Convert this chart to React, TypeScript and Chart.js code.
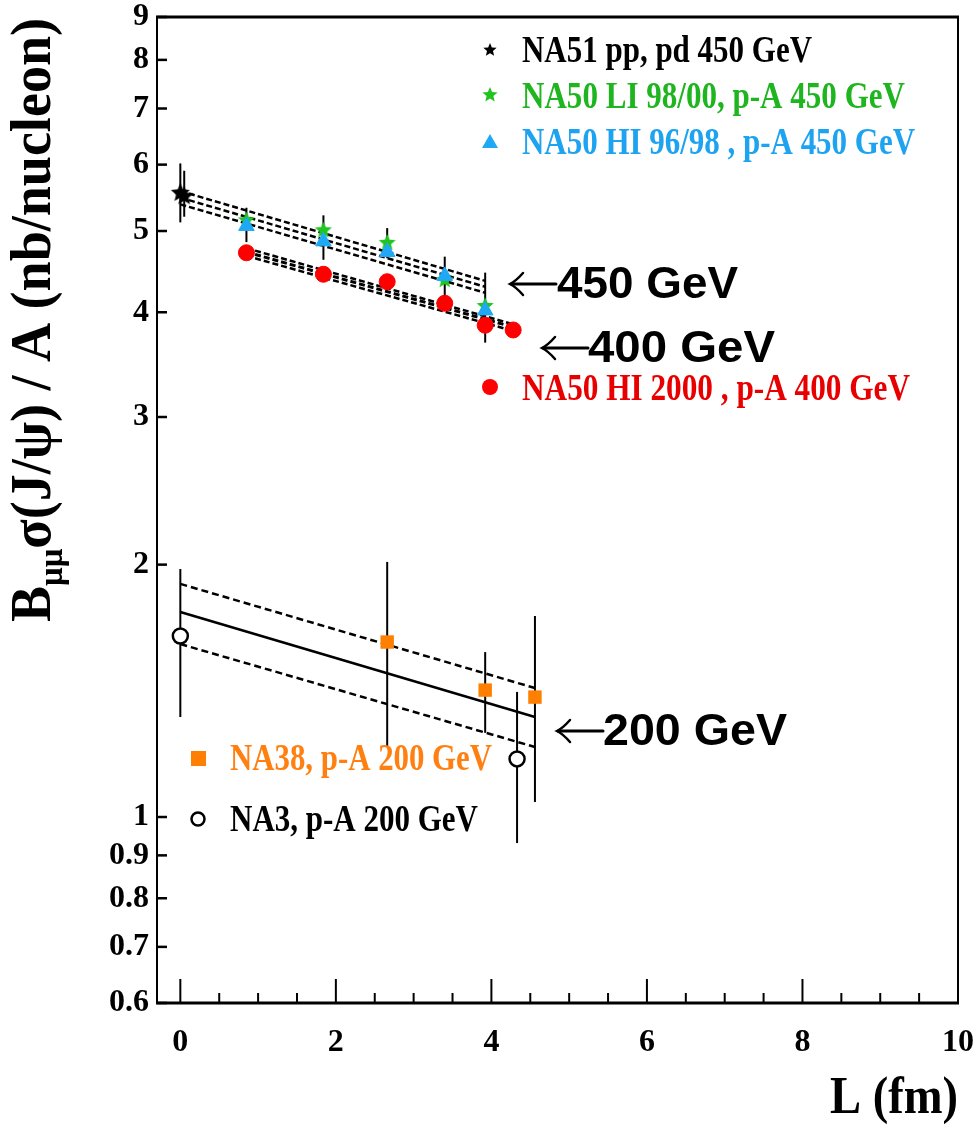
import React, { useEffect, useRef } from "react";
import { Chart, registerables } from "chart.js";

Chart.register(...registerables);

// ---------- data (L in fm, B·sigma/A in nb/nucleon) ----------
const NA51_L = [0, 0.05];
const NA51_V = [5.55, 5.5];
const NA51_LO = [5.12, 5.2];
const NA51_HI = [6.02, 5.9];

const NA50LI_L = [0.85, 1.84, 2.66, 3.4, 3.92];
const NA50LI_V = [5.15, 5.01, 4.84, 4.37, 4.07];

const NA50HI_L = [0.85, 1.84, 2.66, 3.4, 3.92];
const NA50HI_V = [5.07, 4.86, 4.72, 4.42, 4.02];
const NA50HI_LO = [4.85, 4.62, 4.64, 4.17, 3.68];
const NA50HI_HI = [5.33, 5.22, 5.04, 4.66, 4.46];

const NA50_2000_L = [0.85, 1.84, 2.66, 3.4, 3.92, 4.28];
const NA50_2000_V = [4.71, 4.44, 4.35, 4.1, 3.86, 3.81];

const NA38_L = [2.66, 3.92, 4.56];
const NA38_V = [1.617, 1.417, 1.39];
const NA38_LO = [1.212, 1.26, 1.042];
const NA38_HI = [2.015, 1.573, 1.737];

const NA3_L = [0, 4.33];
const NA3_V = [1.644, 1.173];
const NA3_LO = [1.316, 0.931];
const NA3_HI = [1.976, 1.41];

// fits
const FIT450_L = [0, 3.92];
const FIT450_MID = [5.48, 4.29];
const FIT450_UP = [5.58, 4.36];
const FIT450_DN = [5.38, 4.22];
const FIT400_L = [0.85, 4.28];
const FIT400_MID = [4.72, 3.84];
const FIT400_UP = [4.77, 3.87];
const FIT400_DN = [4.67, 3.8];
const FIT200_L = [0, 4.56];
const FIT200_MID = [1.756, 1.316];
const FIT200_UP = [1.897, 1.425];
const FIT200_DN = [1.608, 1.212];

const Y_TICKS = [0.6, 0.7, 0.8, 0.9, 1, 2, 3, 4, 5, 6, 7, 8, 9];
const X_TICKS = [0, 2, 4, 6, 8, 10];
const X_MINOR = [0.5, 1, 1.5, 2.5, 3, 3.5, 4.5, 5, 5.5, 6.5, 7, 7.5, 8.5, 9, 9.5];

const LEGEND_TEXTS = [
  "NA51 pp, pd 450 GeV",
  "NA50 LI 98/00, p-A 450 GeV",
  "NA50 HI 96/98 , p-A 450 GeV",
  "NA50 HI 2000 , p-A 400 GeV",
  "NA38, p-A 200 GeV",
  "NA3, p-A 200 GeV",
];
const ENERGY_LABELS = ["450 GeV", "400 GeV", "200 GeV"];
const X_TITLE = "L (fm)";
const Y_TITLE_REST = "σ(J/ψ) / A (nb/nucleon)";

const SERIF = '"Liberation Serif", "Times New Roman", serif';
const SANS = '"Liberation Sans", Arial, sans-serif';

const C_GREEN = "#22c422";
const C_BLUE = "#1fa9f5";
const C_RED = "#ff0000";
const C_ORANGE = "#ff7f00";

const pts = (xs: number[], ys: number[]) => xs.map((x, i) => ({ x, y: ys[i] }));

function starPath(g: CanvasRenderingContext2D, cx: number, cy: number, r: number) {
  g.beginPath();
  for (let i = 0; i < 10; i++) {
    const ang = -Math.PI / 2 + (i * Math.PI) / 5;
    const rad = i % 2 ? r * 0.45 : r;
    const px = cx + Math.cos(ang) * rad;
    const py = cy + Math.sin(ang) * rad;
    if (i === 0) g.moveTo(px, py);
    else g.lineTo(px, py);
  }
  g.closePath();
}

function makeStar(color: string, r: number) {
  const c = document.createElement("canvas");
  const s = Math.ceil(2 * r + 2);
  c.width = s;
  c.height = s;
  const g = c.getContext("2d")!;
  starPath(g, s / 2, s / 2, r);
  g.fillStyle = color;
  g.fill();
  return c;
}

function drawFit(
  ctx: CanvasRenderingContext2D,
  text: string,
  x: number,
  baseline: number,
  width: number,
  font: string,
  color: string
) {
  ctx.save();
  ctx.font = font;
  ctx.fillStyle = color;
  ctx.textAlign = "left";
  ctx.textBaseline = "alphabetic";
  const m = ctx.measureText(text).width;
  ctx.translate(x, baseline);
  ctx.scale(width / m, 1);
  ctx.fillText(text, 0, 0);
  ctx.restore();
}

function drawArrow(ctx: CanvasRenderingContext2D, x1: number, x2: number, y: number) {
  ctx.save();
  ctx.strokeStyle = "#000";
  ctx.lineWidth = 3;
  ctx.lineCap = "round";
  ctx.beginPath();
  ctx.moveTo(x2, y);
  ctx.lineTo(x1 + 1, y);
  ctx.stroke();
  ctx.lineWidth = 2.5;
  ctx.beginPath();
  ctx.moveTo(x1 + 13, y - 11);
  ctx.quadraticCurveTo(x1 + 6, y - 3, x1, y);
  ctx.quadraticCurveTo(x1 + 6, y + 3, x1 + 13, y + 11);
  ctx.stroke();
  ctx.restore();
}

const ERR_SETS = [
  { L: NA51_L, LO: NA51_LO, HI: NA51_HI },
  { L: NA50HI_L, LO: NA50HI_LO, HI: NA50HI_HI },
  { L: NA38_L, LO: NA38_LO, HI: NA38_HI },
  { L: NA3_L, LO: NA3_LO, HI: NA3_HI },
];

const overlayPlugin = {
  id: "overlay",
  beforeDatasetsDraw(chart: any) {
    const { ctx, scales } = chart;
    const xs = scales.x;
    const ys = scales.y;
    ctx.save();
    ctx.strokeStyle = "#000";
    ctx.lineWidth = 2;
    for (const set of ERR_SETS) {
      set.L.forEach((l: number, i: number) => {
        const px = xs.getPixelForValue(l);
        ctx.beginPath();
        ctx.moveTo(px, ys.getPixelForValue(set.LO[i]));
        ctx.lineTo(px, ys.getPixelForValue(set.HI[i]));
        ctx.stroke();
      });
    }
    ctx.restore();
  },
  afterDraw(chart: any) {
    const { ctx, chartArea: a, scales } = chart;
    const xs = scales.x;
    const ys = scales.y;
    ctx.save();
    ctx.strokeStyle = "#000";
    // frame
    ctx.lineWidth = 3;
    ctx.beginPath();
    ctx.moveTo(a.left - 1, a.top);
    ctx.lineTo(a.right + 1, a.top);
    ctx.moveTo(a.left - 1, a.bottom);
    ctx.lineTo(a.right + 1, a.bottom);
    ctx.stroke();
    ctx.lineWidth = 2;
    ctx.beginPath();
    ctx.moveTo(a.left, a.top);
    ctx.lineTo(a.left, a.bottom);
    ctx.moveTo(a.right, a.top);
    ctx.lineTo(a.right, a.bottom);
    ctx.stroke();
    // y ticks (inside)
    ctx.lineWidth = 2.5;
    for (const v of Y_TICKS) {
      const py = ys.getPixelForValue(v);
      ctx.beginPath();
      ctx.moveTo(a.left, py);
      ctx.lineTo(a.left + 10, py);
      ctx.stroke();
    }
    // x ticks (inside)
    ctx.lineWidth = 2;
    for (const v of X_TICKS) {
      const px = xs.getPixelForValue(v);
      ctx.beginPath();
      ctx.moveTo(px, a.bottom);
      ctx.lineTo(px, a.bottom - 24);
      ctx.stroke();
    }
    for (const v of X_MINOR) {
      const px = xs.getPixelForValue(v);
      ctx.beginPath();
      ctx.moveTo(px, a.bottom);
      ctx.lineTo(px, a.bottom - 10);
      ctx.stroke();
    }

    // legend markers
    const blackStar = makeStar("#000", 7);
    ctx.drawImage(blackStar, 490 - blackStar.width / 2, 50 - blackStar.height / 2);
    const greenStar = makeStar(C_GREEN, 8);
    ctx.drawImage(greenStar, 490 - greenStar.width / 2, 95 - greenStar.height / 2);
    ctx.fillStyle = C_BLUE;
    ctx.beginPath();
    ctx.moveTo(490, 134);
    ctx.lineTo(482, 148);
    ctx.lineTo(498, 148);
    ctx.closePath();
    ctx.fill();
    ctx.fillStyle = C_RED;
    ctx.beginPath();
    ctx.arc(490, 387, 8, 0, Math.PI * 2);
    ctx.fill();
    ctx.fillStyle = C_ORANGE;
    ctx.fillRect(191, 751, 15, 15);
    ctx.fillStyle = "#fff";
    ctx.lineWidth = 2.5;
    ctx.beginPath();
    ctx.arc(198, 819, 6.5, 0, Math.PI * 2);
    ctx.fill();
    ctx.stroke();

    // legend texts
    const lf = `bold 37px ${SERIF}`;
    drawFit(ctx, LEGEND_TEXTS[0], 522, 62, 290, lf, "#000");
    drawFit(ctx, LEGEND_TEXTS[1], 522, 108, 383, lf, "#1fb51f");
    drawFit(ctx, LEGEND_TEXTS[2], 522, 154, 393, lf, "#1ea3f0");
    drawFit(ctx, LEGEND_TEXTS[3], 522, 400, 388, lf, "#e80000");
    drawFit(ctx, LEGEND_TEXTS[4], 230, 770, 262, lf, "#ff7f10");
    drawFit(ctx, LEGEND_TEXTS[5], 230, 831, 248, lf, "#000");

    // energy annotations
    const af = `bold 45px ${SANS}`;
    drawArrow(ctx, 510, 556, 284);
    drawFit(ctx, ENERGY_LABELS[0], 557, 298, 181, af, "#000");
    drawArrow(ctx, 542, 588, 348);
    drawFit(ctx, ENERGY_LABELS[1], 588, 362, 187, af, "#000");
    drawArrow(ctx, 557, 603, 731);
    drawFit(ctx, ENERGY_LABELS[2], 603, 745, 184, af, "#000");

    // x title
    drawFit(ctx, X_TITLE, 830, 1113, 128, `bold 53px ${SERIF}`, "#000");

    // y title (rotated, with subscript)
    ctx.save();
    ctx.translate(50, 320);
    ctx.rotate(-Math.PI / 2);
    ctx.fillStyle = "#000";
    ctx.textBaseline = "alphabetic";
    ctx.textAlign = "left";
    const big = `bold 56px ${SERIF}`;
    const small = `bold 34px ${SERIF}`;
    ctx.font = big;
    const wB = ctx.measureText("B").width;
    const wRest = ctx.measureText(Y_TITLE_REST).width;
    ctx.font = small;
    const wSub = ctx.measureText("μμ").width;
    const total = wB + wSub + wRest;
    ctx.scale(604 / total, 1);
    let cx = -total / 2;
    ctx.font = big;
    ctx.fillText("B", cx, 0);
    cx += wB;
    ctx.font = small;
    ctx.fillText("μμ", cx, 12);
    cx += wSub;
    ctx.font = big;
    ctx.fillText(Y_TITLE_REST, cx, 0);
    ctx.restore();

    ctx.restore();
  },
};

export default function App() {
  const ref = useRef<HTMLCanvasElement | null>(null);
  useEffect(() => {
    if (!ref.current) return;
    const greenStar = makeStar(C_GREEN, 9);
    const blackStar = makeStar("#000", 10);
    const line = (xs: number[], ys: number[], dash: number[], width = 2) => ({
      data: pts(xs, ys),
      showLine: true,
      borderColor: "#000",
      borderWidth: width,
      borderDash: dash,
      pointRadius: 0,
      fill: false,
    });
    const chart = new Chart(ref.current, {
      type: "scatter",
      data: {
        datasets: [
          {
            label: "NA50 HI 96/98",
            data: pts(NA50HI_L, NA50HI_V),
            pointStyle: "triangle",
            pointRadius: 9,
            backgroundColor: C_BLUE,
            borderColor: C_BLUE,
            borderWidth: 1,
          },
          {
            label: "NA50 LI 98/00",
            data: pts(NA50LI_L, NA50LI_V),
            pointStyle: greenStar as any,
          },
          {
            label: "NA50 HI 2000",
            data: pts(NA50_2000_L, NA50_2000_V),
            pointStyle: "circle",
            pointRadius: 8,
            backgroundColor: C_RED,
            borderColor: C_RED,
            borderWidth: 1,
          },
          {
            label: "NA51",
            data: pts(NA51_L, NA51_V),
            pointStyle: blackStar as any,
          },
          {
            label: "NA38",
            data: pts(NA38_L, NA38_V),
            pointStyle: "rect",
            pointRadius: 9.5,
            backgroundColor: C_ORANGE,
            borderColor: C_ORANGE,
            borderWidth: 0,
          },
          {
            label: "NA3",
            data: pts(NA3_L, NA3_V),
            pointStyle: "circle",
            pointRadius: 7.5,
            backgroundColor: "#fff",
            borderColor: "#000",
            borderWidth: 2.5,
          },
          line(FIT450_L, FIT450_MID, [6, 3], 2.5),
          line(FIT450_L, FIT450_UP, [6, 3], 2.5),
          line(FIT450_L, FIT450_DN, [6, 3], 2.5),
          line(FIT400_L, FIT400_MID, [6, 3], 3),
          line(FIT400_L, FIT400_UP, [6, 3], 2.5),
          line(FIT400_L, FIT400_DN, [6, 3], 2.5),
          line(FIT200_L, FIT200_MID, [], 2.5),
          line(FIT200_L, FIT200_UP, [7, 4], 2.5),
          line(FIT200_L, FIT200_DN, [7, 4], 2.5),
        ] as any,
      },
      options: {
        responsive: false,
        maintainAspectRatio: false,
        animation: false,
        devicePixelRatio: 1,
        layout: { padding: { top: 17, right: 18, left: 0, bottom: 0 } },
        plugins: { legend: { display: false }, tooltip: { enabled: false } },
        scales: {
          x: {
            type: "linear",
            min: -0.3,
            max: 10,
            grid: { display: false, drawTicks: false },
            border: { display: false },
            afterBuildTicks: (s: any) => {
              s.ticks = X_TICKS.map((v) => ({ value: v }));
            },
            afterFit: (s: any) => {
              s.height = 126;
              s.paddingLeft = 0;
              s.paddingRight = 0;
            },
            ticks: {
              autoSkip: false,
              maxRotation: 0,
              padding: 24,
              color: "#000",
              font: { family: SERIF, size: 32, weight: "bold", lineHeight: 1 },
              callback: (v: any) => String(v),
            },
          },
          y: {
            type: "logarithmic",
            min: 0.6,
            max: 9,
            grid: { display: false, drawTicks: false },
            border: { display: false },
            afterBuildTicks: (s: any) => {
              s.ticks = Y_TICKS.map((v) => ({ value: v }));
            },
            afterFit: (s: any) => {
              s.width = 157;
              s.paddingTop = 0;
              s.paddingBottom = 0;
            },
            ticks: {
              autoSkip: false,
              padding: 8,
              color: "#000",
              font: { family: SERIF, size: 32, weight: "bold", lineHeight: 1 },
              callback: (v: any) => String(v),
            },
          },
        },
      } as any,
      plugins: [overlayPlugin as any],
    });
    return () => chart.destroy();
  }, []);
  return (
    <div style={{ position: "absolute", left: 0, top: 0, width: 976, height: 1129, background: "#fff" }}>
      <canvas ref={ref} width={976} height={1129} style={{ display: "block" }} />
    </div>
  );
}
